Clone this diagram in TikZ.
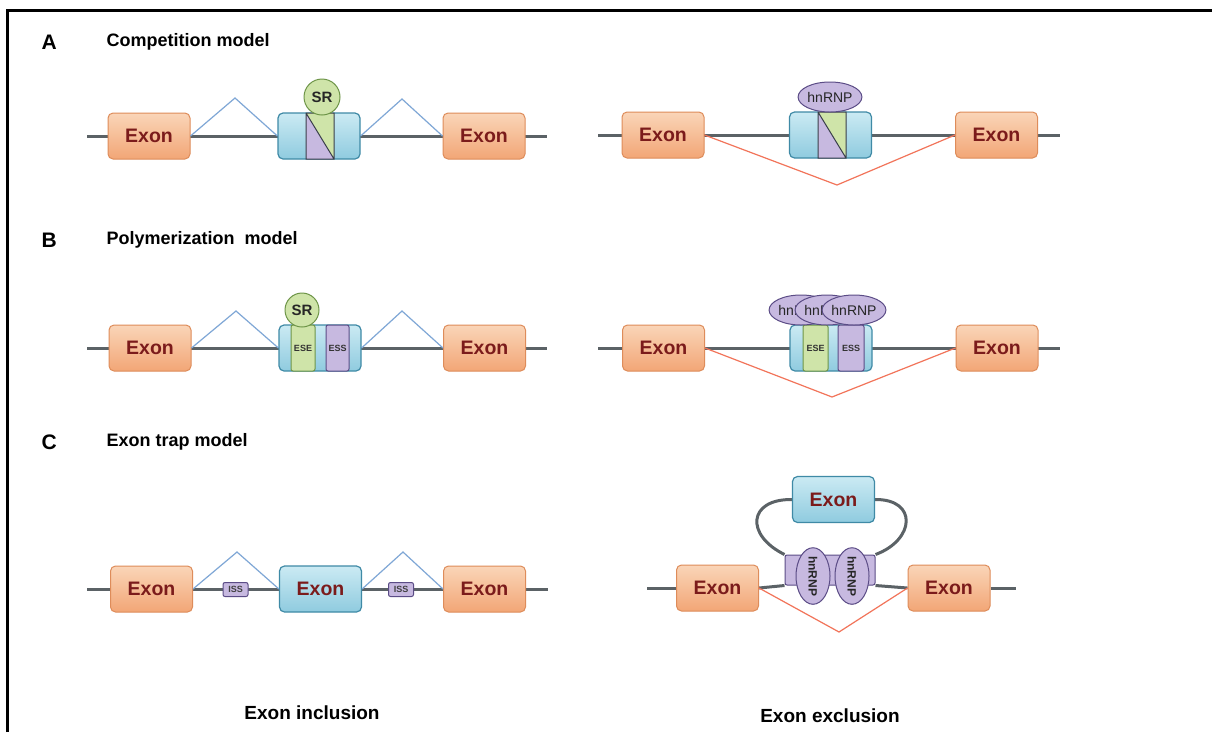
\documentclass[tikz,border=0pt]{standalone}
\usepackage{fontspec}
\setmainfont{Liberation Sans}
\usetikzlibrary{shapes.geometric,backgrounds}
\newcommand\setfs[1]{\fontsize{#1}{#1}\selectfont}
\definecolor{exTop}{HTML}{FAD5B8}
\definecolor{exBot}{HTML}{F2A676}
\definecolor{exLine}{HTML}{DE8C5A}
\definecolor{exTxt}{HTML}{7B1B1B}
\definecolor{blTop}{HTML}{CBEAF3}
\definecolor{blBot}{HTML}{8FCBDF}
\definecolor{blLine}{HTML}{3F8AA6}
\definecolor{bbCol}{HTML}{5B6266}
\definecolor{spCol}{HTML}{7FA7D6}
\definecolor{skCol}{HTML}{F2745A}
\definecolor{grFill}{HTML}{CFE4A9}
\definecolor{grLine}{HTML}{6E9548}
\definecolor{puFill}{HTML}{C7B9E0}
\definecolor{puLine}{HTML}{5B4C86}
\definecolor{dkLine}{HTML}{3A3F4A}
\begin{document}
\begin{tikzpicture}[x=1pt,y=-1pt,
 exon/.style={rectangle,rounded corners=5pt,minimum width=82pt,minimum height=46pt,inner sep=0pt,top color=exTop,bottom color=exBot,draw=exLine,line width=1pt,text=exTxt,font=\setfs{19.5}\bfseries},
 midbox/.style={rectangle,rounded corners=5pt,minimum width=82pt,minimum height=46pt,inner sep=0pt,top color=blTop,bottom color=blBot,draw=blLine,line width=1.2pt},
 blueexon/.style={midbox,text=exTxt,font=\setfs{19.5}\bfseries},
 backbone/.style={draw=bbCol,line width=3pt},
 splice/.style={draw=spCol,line width=1.2pt},
 skipline/.style={draw=skCol,line width=1.2pt},
 srball/.style={circle,minimum size=36pt,inner sep=0pt,fill=grFill,draw=grLine,line width=1pt,font=\setfs{15}\bfseries,text=black!85},
 hnrnp/.style={ellipse,minimum width=54pt,minimum height=30pt,inner sep=0pt,fill=puFill,draw=puLine,line width=1pt,font=\setfs{14},text=black!85},
 grstripe/.style={rectangle,rounded corners=2pt,minimum height=46pt,inner sep=0pt,fill=grFill,draw=grLine,line width=1pt,font=\setfs{9}\bfseries,text=black!80},
 pustripe/.style={rectangle,rounded corners=2pt,minimum height=46pt,inner sep=0pt,fill=puFill,draw=puLine,line width=1pt,font=\setfs{9}\bfseries,text=black!80},
 issbox/.style={rectangle,rounded corners=2pt,minimum width=25pt,minimum height=14pt,inner sep=0pt,fill=puFill,draw=puLine,line width=1pt,font=\setfs{9}\bfseries,text=black!75},
 heading/.style={anchor=west,font=\setfs{18}\bfseries},
 letter/.style={anchor=west,font=\setfs{21}\bfseries},
 caption/.style={font=\setfs{19}\bfseries}]
\useasboundingbox (0,0) rectangle (1212,732);
\draw[line width=3pt] (7,732) -- (7,10) -- (1212,10);

% headings
\node[letter] (la) at (38,42) {A};
\node[heading] (ha) at (103,42) {Competition model};
\node[letter] (lb) at (38,240) {B};
\node[heading] (hb) at (103,240) {Polymerization\ \ model};
\node[letter] (lc) at (38,442) {C};
\node[heading] (hc) at (103,442) {Exon trap model};
\node[caption] (capin) at (312,713) {Exon inclusion};
\node[caption] (capex) at (830,716) {Exon exclusion};

% ---------- Row A left ----------
\coordinate (aL) at (87,136); \coordinate (aR) at (547,136);
\node[exon] (a1) at (149,136) {Exon};
\node[midbox] (am) at (319,136) {};
\node[exon] (a2) at (484,136) {Exon};
\fill[grFill] (306,113) -- (334,113) -- (334,159) -- cycle;
\fill[puFill] (306,113) -- (306,159) -- (334,159) -- cycle;
\draw[dkLine,line width=1pt] (306,113) rectangle (334,159) (306,113) -- (334,159);
\node[srball] (asr) at (322,97) {SR};
\coordinate (ap1) at (235,98); \coordinate (ap2) at (402,99);
\draw[splice] (a1.east) -- (ap1) -- (am.west);
\draw[splice] (am.east) -- (ap2) -- (a2.west);

% ---------- Row A right ----------
\coordinate (bL) at (598,135); \coordinate (bR) at (1060,135);
\node[exon] (b1) at (663,135) {Exon};
\node[midbox] (bm) at (830.5,135) {};
\node[exon] (b2) at (996.5,135) {Exon};
\fill[grFill] (818,112) -- (846,112) -- (846,158) -- cycle;
\fill[puFill] (818,112) -- (818,158) -- (846,158) -- cycle;
\draw[dkLine,line width=1pt] (818,112) rectangle (846,158) (818,112) -- (846,158);
\node[hnrnp] (bh) at (830,97) {hnRNP};
\coordinate (bv) at (837,185);
\draw[skipline] (b1.east) -- (bv) -- (b2.west);

% ---------- Row B left ----------
\coordinate (cL) at (87,348); \coordinate (cR) at (547,348);
\node[exon] (c1) at (150,348) {Exon};
\node[midbox] (cm) at (320,348) {};
\node[exon] (c2) at (484.5,348) {Exon};
\node[grstripe,minimum width=24pt] (cese) at (303,348) {ESE};
\node[pustripe,minimum width=23pt] (cess) at (337.5,348) {ESS};
\node[srball,minimum size=34pt] (csr) at (302,310) {SR};
\coordinate (cp1) at (236,311); \coordinate (cp2) at (402,311);
\draw[splice] (c1.east) -- (cp1) -- (cm.west);
\draw[splice] (cm.east) -- (cp2) -- (c2.west);

% ---------- Row B right ----------
\coordinate (dL) at (598,348); \coordinate (dR) at (1060,348);
\node[exon] (d1) at (663.5,348) {Exon};
\node[midbox] (dm) at (831,348) {};
\node[exon] (d2) at (997,348) {Exon};
\node[grstripe,minimum width=25pt] (dese) at (815.5,348) {ESE};
\node[pustripe,minimum width=26pt] (dess) at (851,348) {ESS};
\node[hnrnp,minimum width=50pt] (dh1) at (801,310) {hnRNP};
\node[hnrnp,minimum width=50pt] (dh2) at (827,310) {hnRNP};
\node[hnrnp,minimum width=50pt] (dh3) at (854,310) {hnRNP};
\coordinate (dv) at (832,397);
\draw[skipline] (d1.east) -- (dv) -- (d2.west);

% ---------- Row C left ----------
\coordinate (eL) at (87,589); \coordinate (eR) at (548,589);
\node[exon] (e1) at (151.5,589) {Exon};
\node[blueexon] (em) at (320.5,589) {Exon};
\node[exon] (e2) at (484.5,589) {Exon};
\node[issbox] (ei1) at (235.5,589.5) {ISS};
\node[issbox] (ei2) at (401,589.5) {ISS};
\coordinate (ep1) at (237,552); \coordinate (ep2) at (403,552);
\draw[splice] (e1.east) -- (ep1) -- (em.west);
\draw[splice] (em.east) -- (ep2) -- (e2.west);

% ---------- Row C right ----------
\coordinate (fL) at (647,588); \coordinate (fR) at (1016,588);
\node[exon] (f1) at (717.5,588) {Exon};
\node[exon] (f2) at (949,588) {Exon};
\node[blueexon] (ft) at (833.5,499.5) {Exon};
\node[rectangle,rounded corners=2pt,minimum width=90pt,minimum height=30pt,fill=puFill,draw=puLine,line width=1pt] (fbar) at (830,570) {};
\node[hnrnp,rotate=-90,minimum width=46pt,minimum height=34pt,font=\setfs{12}\bfseries] (fh1) at (813,576) {hnRNP};
\node[hnrnp,rotate=-90,minimum width=46pt,minimum height=34pt,font=\setfs{12}\bfseries] (fh2) at (852,576) {hnRNP};
\coordinate (fv) at (839,632);
\draw[skipline] (f1.east) -- (fv) -- (f2.west);

\begin{pgfonlayer}{background}
\fill[white] (0,0) rectangle (1212,732);
\draw[backbone] (aL) -- (aR);
\draw[backbone] (bL) -- (bR);
\draw[backbone] (cL) -- (cR);
\draw[backbone] (dL) -- (dR);
\draw[backbone] (eL) -- (eR);
\draw[backbone] (fL) -- (f1.west);
\draw[backbone] (f1.east) -- (fbar.south west);
\draw[backbone] (fbar.south east) -- (f2.west);
\draw[backbone] (f2.east) -- (fR);
\draw[backbone] (ft.west) .. controls (748,499) and (745,535) .. (fbar.north west);
\draw[backbone] (ft.east) .. controls (918,499) and (915,540) .. (fbar.north east);
\end{pgfonlayer}
\end{tikzpicture}
\end{document}
